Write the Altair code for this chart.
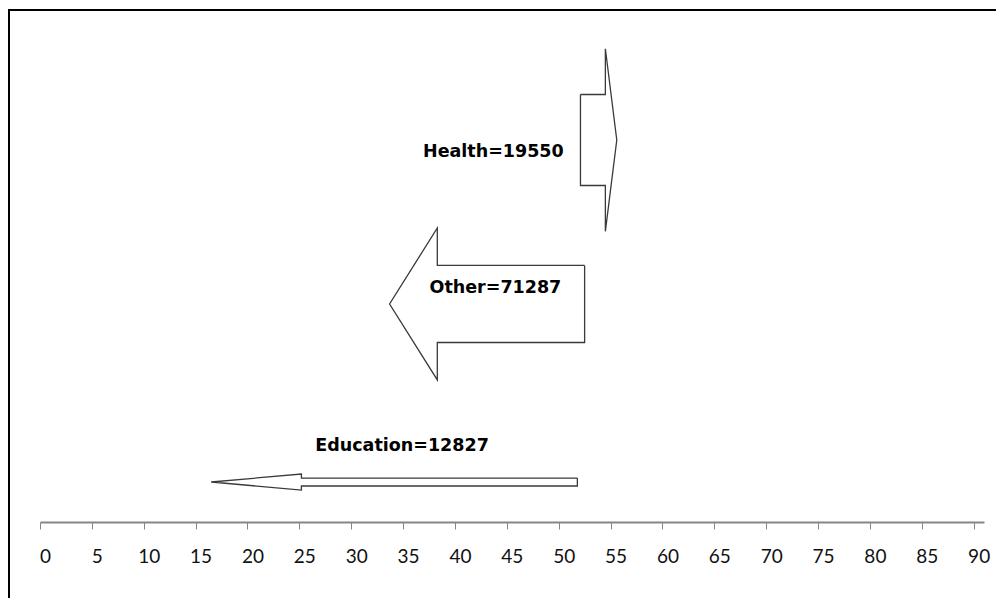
import altair as alt
import pandas as pd

# ---- data ----
categories = ["Health", "Other", "Education"]
values = [19550, 71287, 12827]
# arrow geometry in axis units (x) and a 0-100 vertical scale (y)
arrow_start = [52.1, 52.5, 51.8]
arrow_head_base = [54.5, 38.3, 25.2]
arrow_tip = [55.6, 33.7, 16.5]
arrow_center_y = [74.9, 42.75, 7.84]
shaft_half = [8.92, 7.55, 0.78]
head_half = [17.9, 14.9, 1.57]
# label positions
label_x = [43.7, 43.9, 34.9]
label_y = [72.6, 45.9, 14.9]
tick_values = list(range(0, 91, 5))

# ---- build polygons ----
rows = []
for i, cat in enumerate(categories):
    s, b, t = arrow_start[i], arrow_head_base[i], arrow_tip[i]
    c, sw, hw = arrow_center_y[i], shaft_half[i], head_half[i]
    pts = [(s, c + sw), (b, c + sw), (b, c + hw), (t, c), (b, c - hw),
           (b, c - sw), (s, c - sw), (s, c + sw)]
    for k, (px, py) in enumerate(pts):
        rows.append({"cat": cat, "x": px, "y": py, "ord": k})
poly = pd.DataFrame(rows)

labels = pd.DataFrame({
    "cat": categories,
    "label": [f"{c}={v}" for c, v in zip(categories, values)],
    "x": label_x,
    "y": label_y,
})

xscale = alt.Scale(domain=[0, 91], nice=False, zero=False)
yscale = alt.Scale(domain=[0, 100], nice=False, zero=False)

xaxis = alt.Axis(
    values=tick_values, grid=False, title=None,
    domainColor="#868686", domainWidth=2,
    tickColor="#868686", tickWidth=1, tickSize=7,
    labelFont="Lato", labelFontSize=19, labelColor="#111111",
    labelPadding=18, labelOffset=5, labelFlush=False, labelOverlap=False,
)

arrows = alt.Chart(poly).mark_line(
    color="#3a3a3a", strokeWidth=1.3, strokeJoin="miter"
).encode(
    x=alt.X("x:Q", scale=xscale, axis=xaxis),
    y=alt.Y("y:Q", scale=yscale, axis=None),
    detail="cat:N",
    order="ord:Q",
)

text = alt.Chart(labels).mark_text(
    font="DejaVu Sans", fontWeight="bold", fontSize=17.5, color="#000000",
    align="center", baseline="middle",
).encode(
    x=alt.X("x:Q", scale=xscale),
    y=alt.Y("y:Q", scale=yscale),
    text="label:N",
)

frame_top = alt.Chart(pd.DataFrame({"a": [0]})).mark_rule(
    color="#000000", strokeWidth=2
).encode(x=alt.value(-32), x2=alt.value(1000), y=alt.value(-2))

frame_left = alt.Chart(pd.DataFrame({"a": [0]})).mark_rule(
    color="#000000", strokeWidth=2
).encode(x=alt.value(-31), y=alt.value(-3), y2=alt.value(620))

chart = alt.layer(arrows, text, frame_top, frame_left).properties(
    width=944, height=510,
    padding={"left": 32, "top": 4, "right": 12, "bottom": 76},
    autosize="none",
    background="white",
).configure_view(stroke=None)

chart.save("out.html", embed_options={"renderer": "svg", "actions": False})
